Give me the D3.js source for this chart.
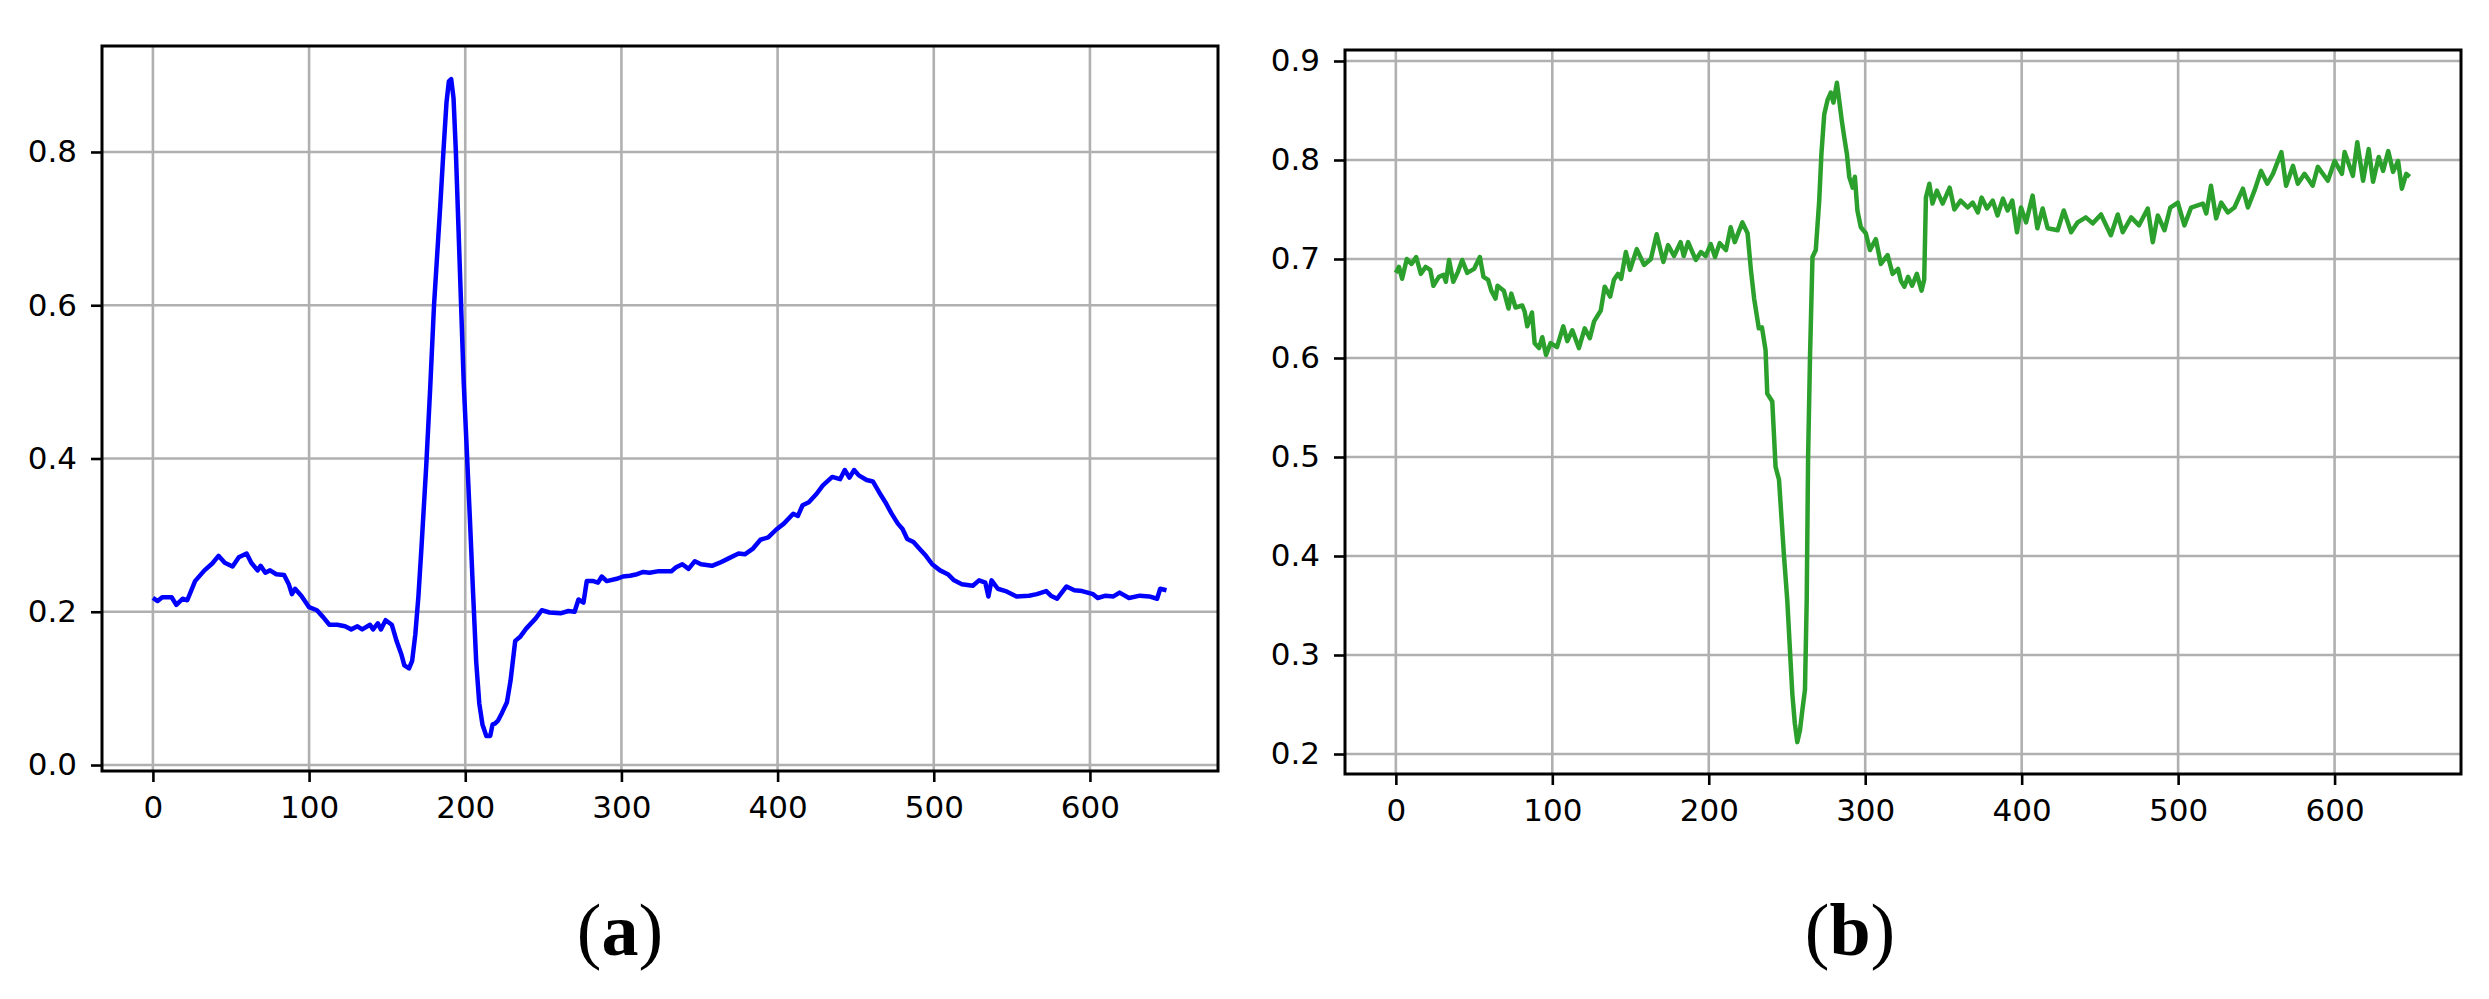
<!DOCTYPE html>
<html lang="en">
<head>
<meta charset="UTF-8">
<title>Signal panels (a) and (b)</title>
<script src="https://d3js.org/d3.v7.min.js"></script>
<style>
  body { margin: 0; background: white; }
  svg { display: block; background: white; }
  .tick text { font-family: 'DejaVu Sans', sans-serif; font-size: 31px; fill: black; }
  .panel-label { font-family: 'Liberation Serif', serif; font-size: 74px; fill: black; }
</style>
</head>
<body>
<svg width="2489" height="999"></svg>
<script>
// tick values
const xTicks = [0, 100, 200, 300, 400, 500, 600];
const leftYTicks = [0.0, 0.2, 0.4, 0.6, 0.8];
const rightYTicks = [0.2, 0.3, 0.4, 0.5, 0.6, 0.7, 0.8, 0.9];
const panelLabels = ["a", "b"];

// (a) blue trace, [sample, value]
const blueSignal = [
  [0,0.218],[3,0.214],[6,0.219],[12,0.219],[15,0.209],[19,0.217],[22,0.215],[27,0.240],[33,0.254],[38,0.263],
  [42,0.273],[46,0.264],[51,0.259],[55,0.271],[60,0.276],[63,0.264],[67,0.254],[69,0.260],[72,0.251],[75,0.254],
  [79,0.249],[84,0.248],[87,0.236],[89,0.223],[91,0.230],[95,0.221],[100,0.206],[105,0.202],[109,0.193],[113,0.183],
  [118,0.183],[123,0.181],[127,0.177],[131,0.181],[134,0.177],[139,0.183],[141,0.177],[144,0.185],[146,0.177],[149,0.189],
  [153,0.183],[156,0.162],[159,0.145],[161,0.130],[164,0.126],[166,0.136],[168,0.170],[170,0.220],[172,0.285],[175,0.390],
  [177.5,0.490],[180,0.600],[182,0.665],[184,0.730],[186,0.800],[188,0.865],[189.5,0.892],[191,0.895],[192.5,0.870],[194,0.800],
  [196,0.680],[197.5,0.590],[199,0.500],[201,0.410],[203,0.320],[205,0.225],[207,0.135],[209,0.080],[211,0.053],[213.5,0.038],
  [216,0.038],[217.5,0.053],[219,0.054],[221,0.058],[223.5,0.068],[226.7,0.082],[229,0.110],[232,0.162],[235,0.167],[239,0.178],
  [245,0.191],[249,0.202],[254,0.199],[261,0.198],[266,0.201],[270,0.200],[272.5,0.216],[275.7,0.212],[277.8,0.240],[282,0.240],
  [285,0.238],[287.4,0.246],[290.6,0.240],[297,0.243],[301,0.246],[305.5,0.247],[310,0.249],[314,0.252],[318,0.251],[324,0.253],
  [332,0.253],[335,0.258],[339,0.262],[343,0.256],[347,0.266],[351,0.262],[358,0.260],[363,0.264],[368,0.269],[375,0.276],
  [379,0.275],[384,0.282],[389,0.294],[394,0.297],[399,0.307],[404,0.315],[410,0.328],[413,0.325],[416,0.339],[420,0.343],
  [425,0.354],[429,0.365],[435,0.376],[440,0.373],[443,0.385],[446,0.375],[449,0.385],[452,0.378],[457,0.372],[461,0.370],
  [465,0.356],[469,0.343],[473,0.328],[477,0.315],[480,0.308],[483,0.295],[487,0.291],[491,0.282],[495,0.273],[499,0.262],
  [504,0.254],[509,0.249],[513,0.241],[518,0.236],[525,0.234],[529,0.241],[533,0.238],[535,0.220],[537,0.241],[541,0.230],
  [546,0.227],[553,0.220],[561,0.221],[566,0.223],[572,0.227],[575,0.221],[579,0.217],[585,0.233],[590,0.228],[595,0.227],
  [602,0.223],[605,0.218],[610,0.221],[615,0.220],[619,0.225],[625,0.218],[632,0.221],[638,0.220],[643,0.217],[645,0.230],
  [649,0.228]
];

// (b) green trace
const greenSignal = [
  [0,0.686],[2,0.692],[4,0.680],[7,0.700],[10,0.695],[13,0.702],[16,0.685],[19,0.692],[22,0.689],[24,0.673],
  [27.5,0.682],[30.5,0.684],[32,0.677],[34,0.699],[36.7,0.677],[39.7,0.687],[42.4,0.699],[45.6,0.686],[50,0.690],[53.7,0.702],
  [56,0.682],[59,0.679],[61,0.668],[63.7,0.660],[65,0.673],[69,0.668],[72,0.650],[73.8,0.665],[76.5,0.651],[80.8,0.653],
  [82.3,0.647],[84,0.632],[87,0.646],[88.7,0.615],[91.5,0.610],[93.6,0.621],[96,0.603],[98.9,0.615],[103,0.611],[107,0.632],
  [109.6,0.617],[112.8,0.628],[117,0.610],[120.7,0.630],[124,0.620],[126.7,0.637],[131,0.648],[133.5,0.672],[137,0.662],[139.4,0.679],
  [142,0.685],[144,0.680],[147,0.707],[149.7,0.689],[154,0.710],[158.6,0.694],[163,0.700],[166.7,0.725],[171,0.697],[174,0.714],
  [177.8,0.703],[182,0.717],[184,0.703],[186.8,0.717],[191.7,0.699],[195,0.707],[198,0.703],[201.3,0.715],[204,0.702],[207,0.716],
  [211,0.709],[214,0.732],[216.6,0.717],[221.5,0.737],[224.8,0.726],[227,0.688],[229,0.660],[232,0.630],[234,0.631],[236.3,0.608],
  [237.4,0.564],[240.6,0.556],[242.7,0.490],[244.9,0.477],[248,0.402],[250.2,0.355],[252,0.302],[253.4,0.261],[255,0.231],[256.6,0.212],
  [258.3,0.224],[259.8,0.244],[261.5,0.265],[262.6,0.355],[263.5,0.500],[264.7,0.600],[266.3,0.702],[268.4,0.709],[270.6,0.759],[272,0.806],
  [273.8,0.846],[276,0.861],[278,0.868],[279.7,0.858],[281.9,0.878],[283.4,0.860],[285,0.840],[286.6,0.823],[288.3,0.806],[289.8,0.783],
  [292,0.772],[293.4,0.783],[295,0.749],[297.2,0.732],[300.4,0.726],[303,0.709],[306.8,0.720],[310,0.695],[314.3,0.704],[317.5,0.685],
  [321,0.690],[322.8,0.678],[325,0.672],[327.4,0.682],[330,0.673],[333,0.685],[336,0.668],[337.7,0.679],[338.8,0.762],[341,0.776],
  [343,0.756],[345.8,0.769],[349.5,0.756],[354,0.772],[357,0.750],[361,0.759],[365.5,0.752],[368.7,0.757],[372,0.747],[374.4,0.762],
  [377.8,0.751],[381.5,0.759],[384.6,0.744],[388,0.761],[391,0.749],[394,0.759],[397,0.727],[399.6,0.752],[402.8,0.737],[407,0.764],
  [410,0.731],[413.4,0.751],[416.6,0.731],[423,0.729],[426.9,0.749],[431.6,0.727],[435.8,0.737],[441,0.742],[445.4,0.736],[450.7,0.745],
  [457,0.724],[461.4,0.745],[464.6,0.727],[470,0.742],[475,0.734],[480.6,0.751],[483.8,0.717],[487,0.744],[491.3,0.729],[495,0.752],
  [499.8,0.757],[504,0.734],[508.3,0.752],[515.8,0.756],[518,0.746],[521,0.774],[524.3,0.741],[527.5,0.757],[531.8,0.747],[536,0.752],
  [541.4,0.771],[544.6,0.752],[548.8,0.769],[553,0.789],[557,0.776],[560.6,0.786],[566,0.808],[569,0.774],[573.4,0.794],[576.5,0.776],
  [580.8,0.786],[586,0.774],[589.3,0.793],[595.7,0.779],[600,0.799],[604.7,0.786],[606.4,0.808],[611.7,0.784],[614.5,0.818],[618.2,0.779],
  [621.8,0.811],[624.6,0.778],[628.2,0.803],[631,0.789],[634.3,0.809],[637.4,0.788],[640.6,0.799],[643,0.771],[645.8,0.786],[648,0.783]
];

const svg = d3.select("svg");

const panels = [
  {data: blueSignal, color: "#0000ff", yTicks: leftYTicks, label: panelLabels[0],
   left: 102, right: 1218, top: 46, bottom: 771,
   xDomain: [-32.6, 682], yDomain: [-0.0078, 0.9383], labelX: 620},
  {data: greenSignal, color: "#2ca02c", yTicks: rightYTicks, label: panelLabels[1],
   left: 1345, right: 2461, top: 50, bottom: 774,
   xDomain: [-32.5, 680.8], yDomain: [0.1798, 0.9111], labelX: 1850}
];

panels.forEach(p => {
  const x = d3.scaleLinear().domain(p.xDomain).range([p.left, p.right]);
  const y = d3.scaleLinear().domain(p.yDomain).range([p.bottom, p.top]);
  const g = svg.append("g");

  // grid
  g.selectAll(".vgrid").data(xTicks).join("line")
      .attr("x1", d => x(d)).attr("x2", d => x(d))
      .attr("y1", p.top).attr("y2", p.bottom)
      .attr("stroke", "#b0b0b0").attr("stroke-width", 2.6);
  g.selectAll(".hgrid").data(p.yTicks).join("line")
      .attr("x1", p.left).attr("x2", p.right)
      .attr("y1", d => y(d)).attr("y2", d => y(d))
      .attr("stroke", "#b0b0b0").attr("stroke-width", 2.6);

  g.append("path")
      .datum(p.data)
      .attr("fill", "none")
      .attr("stroke", p.color)
      .attr("stroke-width", 4.5)
      .attr("stroke-linejoin", "round")
      .attr("d", d3.line().x(d => x(d[0])).y(d => y(d[1])));

  // axes
  g.append("g")
      .attr("transform", `translate(0,${p.bottom})`)
      .call(d3.axisBottom(x).tickValues(xTicks).tickFormat(d3.format("d")).tickSize(11).tickPadding(14))
      .call(a => a.select(".domain").remove())
      .call(a => a.selectAll(".tick line").attr("stroke", "black").attr("stroke-width", 2.6));

  g.append("g")
      .attr("transform", `translate(${p.left},0)`)
      .call(d3.axisLeft(y).tickValues(p.yTicks).tickFormat(d3.format(".1f")).tickSize(11).tickPadding(14))
      .call(a => a.select(".domain").remove())
      .call(a => a.selectAll(".tick line").attr("stroke", "black").attr("stroke-width", 2.6));

  g.append("rect")
      .attr("x", p.left).attr("y", p.top)
      .attr("width", p.right - p.left).attr("height", p.bottom - p.top)
      .attr("fill", "none").attr("stroke", "black").attr("stroke-width", 3);

  const t = svg.append("text")
      .attr("class", "panel-label")
      .attr("x", p.labelX).attr("y", 955)
      .attr("text-anchor", "middle");
  t.append("tspan").text("(");
  t.append("tspan").attr("font-weight", "bold").text(p.label);
  t.append("tspan").text(")");
});
</script>
</body>
</html>
